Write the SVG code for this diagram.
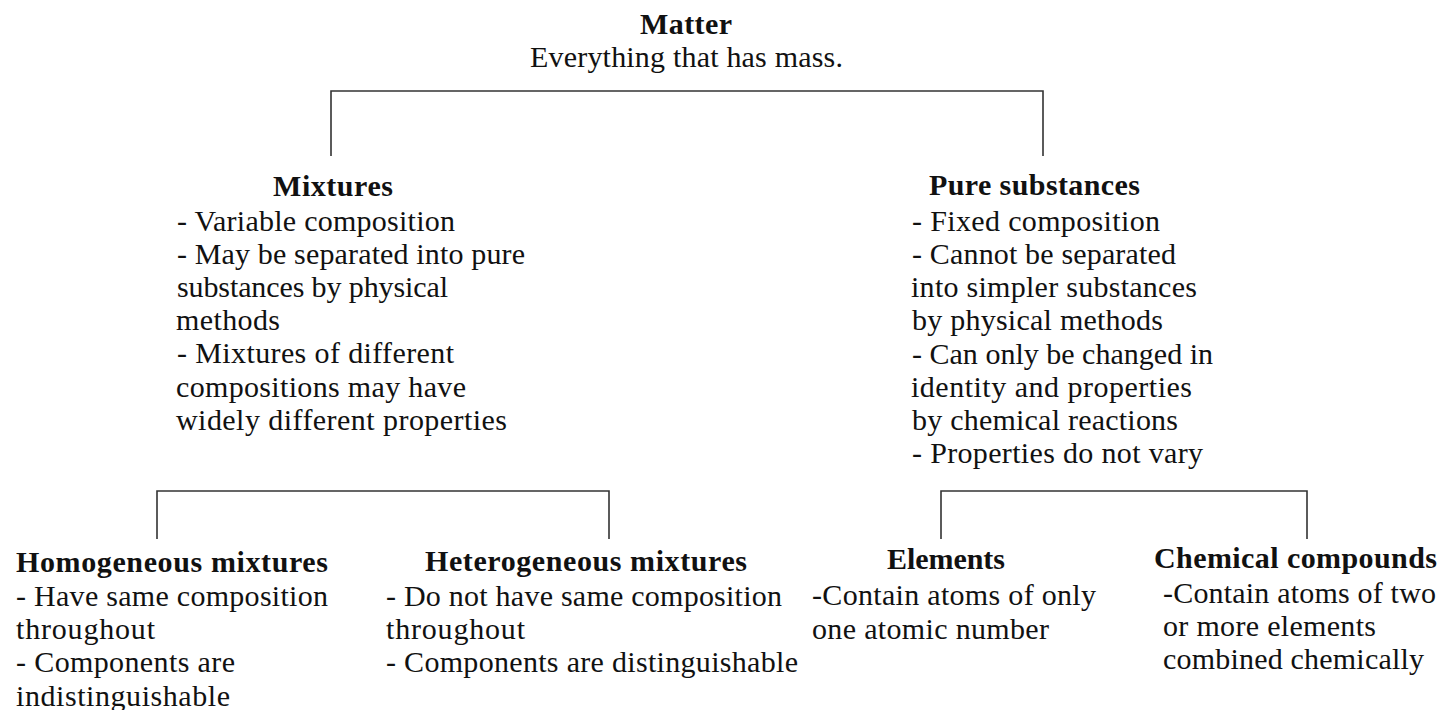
<svg xmlns="http://www.w3.org/2000/svg" width="1444" height="710" viewBox="0 0 1444 710">
<style>
  text { font-family: "Liberation Serif", "Times New Roman", serif; fill: #111; }
  .h { font-size: 30px; font-weight: bold; }
  .t { font-size: 30px; }
  .c { fill: none; stroke: #333; stroke-width: 1.6; }
</style>
<rect width="1444" height="710" fill="#fff"/>
<g id="connectors">
  <polyline class="c" points="331,156 331,91 1043,91 1043,156"/>
  <polyline class="c" points="157,539 157,491 609,491 609,539"/>
  <polyline class="c" points="941,539 941,491 1307,491 1307,539"/>
</g>
<g id="matter">
  <text class="h" x="640" y="34" textLength="92" lengthAdjust="spacing">Matter</text>
  <text class="t" x="530" y="67" textLength="313" lengthAdjust="spacing">Everything that has mass.</text>
</g>
<g id="mixtures">
  <text class="h" x="273" y="196" textLength="120" lengthAdjust="spacing">Mixtures</text>
  <text class="t" x="177" y="231" textLength="278" lengthAdjust="spacing">- Variable composition</text>
  <text class="t" x="177" y="264" textLength="348" lengthAdjust="spacing">- May be separated into pure</text>
  <text class="t" x="177" y="297" textLength="271" lengthAdjust="spacing">substances by physical</text>
  <text class="t" x="176" y="330" textLength="104" lengthAdjust="spacing">methods</text>
  <text class="t" x="177" y="363" textLength="277" lengthAdjust="spacing">- Mixtures of different</text>
  <text class="t" x="176" y="397" textLength="290" lengthAdjust="spacing">compositions may have</text>
  <text class="t" x="176" y="430" textLength="331" lengthAdjust="spacing">widely different properties</text>
</g>
<g id="pure-substances">
  <text class="h" x="929" y="195" textLength="211" lengthAdjust="spacing">Pure substances</text>
  <text class="t" x="912" y="231" textLength="248" lengthAdjust="spacing">- Fixed composition</text>
  <text class="t" x="912" y="264" textLength="264" lengthAdjust="spacing">- Cannot be separated</text>
  <text class="t" x="911" y="297" textLength="286" lengthAdjust="spacing">into simpler substances</text>
  <text class="t" x="912" y="330" textLength="251" lengthAdjust="spacing">by physical methods</text>
  <text class="t" x="912" y="364" textLength="301" lengthAdjust="spacing">- Can only be changed in</text>
  <text class="t" x="911" y="397" textLength="281" lengthAdjust="spacing">identity and properties</text>
  <text class="t" x="912" y="430" textLength="266" lengthAdjust="spacing">by chemical reactions</text>
  <text class="t" x="912" y="463" textLength="291" lengthAdjust="spacing">- Properties do not vary</text>
</g>
<g id="homogeneous">
  <text class="h" x="16" y="572" textLength="312" lengthAdjust="spacing">Homogeneous mixtures</text>
  <text class="t" x="16" y="606" textLength="312" lengthAdjust="spacing">- Have same composition</text>
  <text class="t" x="16" y="639" textLength="139" lengthAdjust="spacing">throughout</text>
  <text class="t" x="16" y="672" textLength="219" lengthAdjust="spacing">- Components are</text>
  <text class="t" x="16" y="706" textLength="214" lengthAdjust="spacing">indistinguishable</text>
</g>
<g id="heterogeneous">
  <text class="h" x="425" y="571" textLength="322" lengthAdjust="spacing">Heterogeneous mixtures</text>
  <text class="t" x="386" y="606" textLength="396" lengthAdjust="spacing">- Do not have same composition</text>
  <text class="t" x="386" y="639" textLength="139" lengthAdjust="spacing">throughout</text>
  <text class="t" x="386" y="672" textLength="412" lengthAdjust="spacing">- Components are distinguishable</text>
</g>
<g id="elements">
  <text class="h" x="887" y="569" textLength="118" lengthAdjust="spacing">Elements</text>
  <text class="t" x="812" y="605" textLength="284" lengthAdjust="spacing">-Contain atoms of only</text>
  <text class="t" x="812" y="639" textLength="237" lengthAdjust="spacing">one atomic number</text>
</g>
<g id="chemical-compounds">
  <text class="h" x="1154" y="568" textLength="283" lengthAdjust="spacing">Chemical compounds</text>
  <text class="t" x="1163" y="603" textLength="273" lengthAdjust="spacing">-Contain atoms of two</text>
  <text class="t" x="1163" y="636" textLength="213" lengthAdjust="spacing">or more elements</text>
  <text class="t" x="1163" y="669" textLength="261" lengthAdjust="spacing">combined chemically</text>
</g>
</svg>
